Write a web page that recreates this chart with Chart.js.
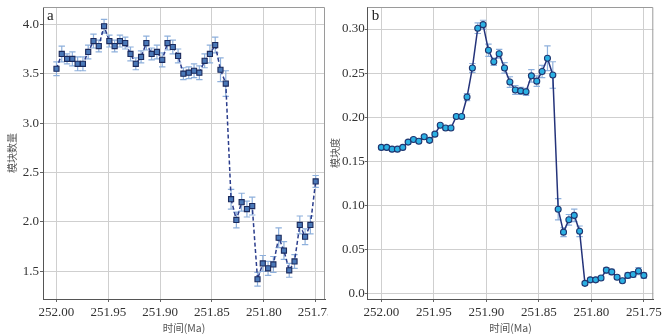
<!DOCTYPE html>
<html>
<head>
<meta charset="utf-8">
<script src="https://cdn.jsdelivr.net/npm/chart.js@4"></script>
<style>
  body { margin: 0; background: #fff; }
  .wrap { position: relative; width: 665px; height: 335px; }
  canvas { position: absolute; top: 0; }
  #chartA { left: 0; }
  #chartB { left: 328px; }
</style>
</head>
<body>
<div class="wrap">
  <canvas id="chartA" width="328" height="335"></canvas>
  <canvas id="chartB" width="337" height="335"></canvas>
</div>
<script>
// ---- data (ages in Ma) ----
const ages = [
  252.0000, 251.9949, 251.9898, 251.9847, 251.9796, 251.9745, 251.9694, 251.9643, 251.9592, 251.9541,
  251.9490, 251.9439, 251.9388, 251.9337, 251.9286, 251.9235, 251.9184, 251.9133, 251.9082, 251.9031,
  251.8980, 251.8929, 251.8878, 251.8827, 251.8776, 251.8724, 251.8673, 251.8622, 251.8571, 251.8520,
  251.8469, 251.8418, 251.8367, 251.8316, 251.8265, 251.8214, 251.8163, 251.8112, 251.8061, 251.8010,
  251.7959, 251.7908, 251.7857, 251.7806, 251.7755, 251.7704, 251.7653, 251.7602, 251.7551, 251.7500
];

// a: module count
const moduleCount = [
  3.55, 3.70, 3.65, 3.65, 3.60, 3.60, 3.72, 3.83, 3.78, 3.98,
  3.83, 3.78, 3.83, 3.81, 3.70, 3.60, 3.67, 3.81, 3.70, 3.72,
  3.64, 3.81, 3.77, 3.68, 3.50, 3.51, 3.53, 3.51, 3.63, 3.70,
  3.79, 3.54, 3.40, 2.23, 2.02, 2.20, 2.13, 2.16, 1.42, 1.58,
  1.53, 1.57, 1.84, 1.71, 1.51, 1.60, 1.97, 1.85, 1.97, 2.41
];
const moduleCountErr = [
  0.07, 0.08, 0.05, 0.07, 0.07, 0.07, 0.07, 0.07, 0.06, 0.07,
  0.06, 0.06, 0.06, 0.06, 0.07, 0.06, 0.06, 0.07, 0.06, 0.07,
  0.07, 0.07, 0.07, 0.07, 0.06, 0.06, 0.07, 0.07, 0.07, 0.09,
  0.08, 0.12, 0.13, 0.10, 0.08, 0.09, 0.08, 0.09, 0.07, 0.08,
  0.07, 0.08, 0.10, 0.09, 0.07, 0.07, 0.09, 0.08, 0.09, 0.06
];

// b: modularity
const modularity = [
  0.166, 0.166, 0.164, 0.164, 0.166, 0.172, 0.175, 0.173, 0.178, 0.174,
  0.181, 0.191, 0.188, 0.188, 0.201, 0.201, 0.223, 0.256, 0.301, 0.305,
  0.276, 0.263, 0.272, 0.256, 0.240, 0.231, 0.230, 0.229, 0.247, 0.241,
  0.252, 0.267, 0.248, 0.096, 0.070, 0.084, 0.089, 0.071, 0.012, 0.016,
  0.016, 0.018, 0.027, 0.025, 0.019, 0.015, 0.021, 0.022, 0.026, 0.021
];
const modularityErr = [
  0.002, 0.002, 0.002, 0.002, 0.002, 0.002, 0.002, 0.002, 0.002, 0.002,
  0.002, 0.002, 0.002, 0.002, 0.002, 0.002, 0.004, 0.005, 0.006, 0.005,
  0.007, 0.004, 0.005, 0.006, 0.006, 0.005, 0.004, 0.004, 0.007, 0.006,
  0.007, 0.014, 0.015, 0.012, 0.005, 0.006, 0.007, 0.006, 0.002, 0.002,
  0.002, 0.002, 0.003, 0.003, 0.002, 0.002, 0.003, 0.003, 0.004, 0.003
];

// ---- ticks ----
const xTicks = [252.00, 251.95, 251.90, 251.85, 251.80, 251.75];
const xTickLabels = ['252.00', '251.95', '251.90', '251.85', '251.80', '251.75'];
const yTicksA = [1.5, 2.0, 2.5, 3.0, 3.5, 4.0];
const yTickLabelsA = ['1.5', '2.0', '2.5', '3.0', '3.5', '4.0'];
const yTicksB = [0.0, 0.05, 0.10, 0.15, 0.20, 0.25, 0.30];
const yTickLabelsB = ['0.0', '0.05', '0.10', '0.15', '0.20', '0.25', '0.30'];

const serif = '"Liberation Serif", "DejaVu Serif", serif';
const cjk = '"Noto Sans CJK SC", "Noto Sans", sans-serif';

//* error bars drawn under the markers
const errorBars = {
  id: 'errorBars',
  beforeDatasetsDraw(chart, args, opts) {
    const ctx = chart.ctx;
    const xs = chart.scales.x, ys = chart.scales.y;
    ctx.save();
    ctx.strokeStyle = opts.color;
    ctx.lineWidth = 1.2;
    opts.values.forEach((v, i) => {
      const x = xs.getPixelForValue(ages[i]);
      const y1 = ys.getPixelForValue(v - opts.errors[i]);
      const y2 = ys.getPixelForValue(v + opts.errors[i]);
      ctx.beginPath();
      ctx.moveTo(x, y1); ctx.lineTo(x, y2);
      ctx.moveTo(x - 3.2, y1); ctx.lineTo(x + 3.2, y1);
      ctx.moveTo(x - 3.2, y2); ctx.lineTo(x + 3.2, y2);
      ctx.stroke();
    });
    ctx.restore();
  }
};

//* frame + panel letter
const frame = {
  id: 'frame',
  afterDraw(chart, args, opts) {
    const {ctx, chartArea: a} = chart;
    ctx.save();
    ctx.strokeStyle = '#9a9a9a';
    ctx.lineWidth = 1;
    ctx.beginPath();
    ctx.moveTo(a.left, a.top + 0.5); ctx.lineTo(a.right - 0.5, a.top + 0.5);
    ctx.lineTo(a.right - 0.5, a.bottom);
    ctx.stroke();
    ctx.fillStyle = '#222';
    ctx.font = '15px ' + serif;
    ctx.textBaseline = 'top';
    ctx.fillText(opts.letter, a.left + 4, a.top + 2);
    ctx.restore();
  }
};

function makeChart(id, cfg) {
  const ctx = document.getElementById(id).getContext('2d');
  return new Chart(ctx, {
    type: 'line',
    data: {
      datasets: [{
        data: cfg.values.map((v, i) => ({ x: ages[i], y: v })),
        borderColor: cfg.lineColor,
        borderWidth: 1.5,
        borderDash: cfg.dash,
        pointStyle: cfg.pointStyle,
        pointRadius: cfg.pointRadius,
        pointBackgroundColor: cfg.pointFill,
        pointBorderColor: cfg.pointBorder,
        pointBorderWidth: 1.1,
        tension: 0,
        fill: false
      }]
    },
    options: {
      responsive: false,
      animation: false,
      events: [],
      layout: { autoPadding: false, padding: { top: 7, right: cfg.padRight, left: 0, bottom: 0 } },
      plugins: {
        legend: { display: false },
        tooltip: { enabled: false },
        errorBars: { values: cfg.values, errors: cfg.errors, color: '#8eb0dc' },
        frame: { letter: cfg.letter }
      },
      scales: {
        x: {
          type: 'linear',
          reverse: true,
          min: 251.741,
          max: 252.013,
          afterBuildTicks: s => { s.ticks = xTicks.map(v => ({ value: v })); },
          afterFit: s => { s.height = 36; s.paddingLeft = 0; s.paddingRight = 0; },
          grid: {
            color: '#cfcfcf', lineWidth: 1, borderDash: [1.5, 1.5],
            drawTicks: true, tickLength: 3, tickColor: '#666', tickBorderDash: []
          },
          border: { display: true, color: '#555', width: 1 },
          ticks: {
            padding: 3, maxRotation: 0, autoSkip: false,
            color: '#333', font: { family: serif, size: 13 },
            callback: (v, i) => xTickLabels[i]
          },
          title: {
            display: true, text: '时间(Ma)', color: '#555',
            font: { family: cjk, size: 10.5 }, padding: { top: 0, bottom: 1 }
          }
        },
        y: {
          type: 'linear',
          min: cfg.yMin,
          max: cfg.yMax,
          afterBuildTicks: s => { s.ticks = cfg.yTicks.map(v => ({ value: v })); },
          afterFit: s => { s.width = cfg.yWidth; s.paddingTop = 0; s.paddingBottom = 0; },
          grid: {
            color: '#cfcfcf', lineWidth: 1, borderDash: [1.5, 1.5],
            drawTicks: true, tickLength: 3, tickColor: '#666', tickBorderDash: []
          },
          border: { display: true, color: '#555', width: 1 },
          ticks: {
            padding: cfg.tickPad, autoSkip: false,
            color: '#333', font: { family: serif, size: 13 },
            callback: (v, i) => cfg.yTickLabels[i]
          },
          title: {
            display: true, text: cfg.yTitle, color: '#555',
            font: { family: cjk, size: 10 }, padding: { top: cfg.titlePad, bottom: 0 }
          }
        }
      }
    },
    plugins: [errorBars, frame]
  });
}

makeChart('chartA', {
  values: moduleCount, errors: moduleCountErr, letter: 'a',
  lineColor: '#2b3d8c', dash: [4, 2.5], pointStyle: 'rect', pointRadius: 3.6,
  pointFill: '#4a78b8', pointBorder: '#1b2a5c',
  yMin: 1.22, yMax: 4.175, yTicks: yTicksA, yTickLabels: yTickLabelsA,
  yWidth: 43, padRight: 3, tickPad: 1, yTitle: '模块数量', titlePad: 6
});

makeChart('chartB', {
  values: modularity, errors: modularityErr, letter: 'b',
  lineColor: '#24337a', dash: [], pointStyle: 'circle', pointRadius: 3,
  pointFill: '#2bb0e3', pointBorder: '#1f3670',
  yMin: -0.0057, yMax: 0.325, yTicks: yTicksB, yTickLabels: yTickLabelsB,
  yWidth: 39.7, padRight: 11.7, tickPad: 0, yTitle: '模块度', titlePad: 1
});
</script>
</body>
</html>
